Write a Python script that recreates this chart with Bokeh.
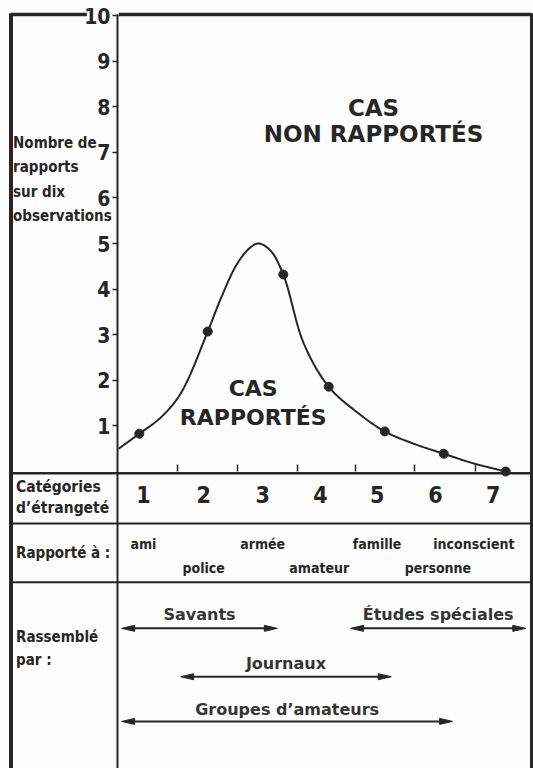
import numpy as np
from bokeh.plotting import figure
from bokeh.models import Range1d, LinearAxis, FixedTicker
from bokeh.core.properties import value
from bokeh.embed import file_html
from bokeh.resources import INLINE

# ---------------- data ----------------
# observed points: category position (x) and reports per ten observations (y)
point_x = [0.87, 2.03, 3.31, 4.08, 5.03, 6.03, 7.08]
point_y = [0.83, 3.07, 4.32, 1.86, 0.88, 0.39, 0.00]

# points
curve_x = [0.52, 0.87, 1.23, 1.57, 2.03, 2.25, 2.53, 2.75, 2.89, 3.09, 3.31, 3.66, 4.08, 4.57, 5.03, 5.52, 6.03, 6.53, 7.08]
curve_y = [0.50, 0.83, 1.18, 1.71, 3.07, 3.79, 4.56, 4.91, 5.00, 4.85, 4.32, 2.80, 1.86, 1.29, 0.88, 0.61, 0.39, 0.18, 0.00]

y_ticks = [1, 2, 3, 4, 5, 6, 7, 8, 9, 10]
x_ticks = [1.52, 2.53, 3.55, 4.53, 5.53, 6.57]

category_labels = ["1", "2", "3", "4", "5", "6", "7"]
category_x = [0.94, 1.96, 2.96, 3.94, 4.90, 5.89, 6.87]

reported_to = ["ami", "police", "armée", "amateur", "famille", "personne", "inconscient"]
reported_x = [0.94, 1.96, 2.96, 3.92, 4.90, 5.93, 6.54]
reported_row = [0, 1, 0, 1, 0, 1, 0]

collectors = ["Savants", "Études spéciales", "Journaux", "Groupes d’amateurs"]
collector_start = [0.57, 4.45, 1.57, 0.57]
collector_end = [3.21, 7.42, 5.14, 6.18]
collector_row = [0, 0, 1, 2]

y_title = ["Nombre de", "rapports", "sur dix", "observations"]

# ---------------- layout / style ----------------
W, H = 533, 768
X0, X1 = -1.483, 7.551
Y0, Y1 = -6.513, 10.329
PXX = W / (X1 - X0)
PXY = H / (Y1 - Y0)

INK = "#262626"
BG = "#fdfdfd"
NARROW = "'Liberation Sans Narrow', 'DejaVu Sans Condensed', 'Arial Narrow', sans-serif"
WIDE = "'DejaVu Sans', sans-serif"

LEFT_X = -1.305     # outer left border
AXIS_X = 0.5        # y axis / column divider
RIGHT_X = 7.517     # outer right border
TOP_Y = 10.02
ROW_LINES = [-0.04, -1.14, -2.43]
TEXT_X = -1.22

p = figure(width=W, height=H, x_range=Range1d(X0, X1), y_range=Range1d(Y0, Y1),
           x_axis_location=None, y_axis_location=None, toolbar_location=None,
           output_backend="svg", min_border=0, outline_line_color=None,
           background_fill_color=BG, border_fill_color=BG)
p.grid.visible = False

# frame lines
p.segment(x0=[LEFT_X], y0=[TOP_Y + 0.03], x1=[LEFT_X], y1=[Y0], line_color=INK, line_width=4)
p.segment(x0=[RIGHT_X], y0=[TOP_Y + 0.03], x1=[RIGHT_X], y1=[Y0], line_color=INK, line_width=3)
p.segment(x0=[AXIS_X], y0=[TOP_Y], x1=[AXIS_X], y1=[Y0], line_color=INK, line_width=2)
p.segment(x0=[LEFT_X, 0.52], y0=[TOP_Y, TOP_Y], x1=[-0.02, RIGHT_X], y1=[TOP_Y, TOP_Y],
          line_color=INK, line_width=3.5)
p.segment(x0=[LEFT_X] * 3, y0=ROW_LINES, x1=[RIGHT_X] * 3, y1=ROW_LINES,
          line_color=INK, line_width=[2.5, 2, 2])

# y axis at the column divider
yaxis = LinearAxis(ticker=FixedTicker(ticks=y_ticks), fixed_location=AXIS_X, bounds=(0, 10))
yaxis.axis_line_color = None
yaxis.major_tick_out = 5
yaxis.major_tick_in = 0
yaxis.major_tick_line_color = INK
yaxis.major_tick_line_width = 1.5
yaxis.minor_tick_line_color = None
yaxis.major_label_text_font = NARROW
yaxis.major_label_text_font_size = "21px"
yaxis.major_label_text_font_style = "bold"
yaxis.major_label_text_color = INK
yaxis.major_label_standoff = 2
p.add_layout(yaxis, "left")

# x axis ticks on the base line
xaxis = LinearAxis(ticker=FixedTicker(ticks=x_ticks), fixed_location=0)
xaxis.axis_line_color = None
xaxis.major_tick_in = 7
xaxis.major_tick_out = 0
xaxis.major_tick_line_color = INK
xaxis.major_tick_line_width = 1.5
xaxis.minor_tick_line_color = None
xaxis.major_label_overrides = {t: "" for t in x_ticks}
p.add_layout(xaxis, "below")

# smooth curve (centripetal Catmull-Rom through the read curve points)
def smooth(xs, ys, n=24):
    P = np.column_stack([np.asarray(xs) * PXX, np.asarray(ys) * PXY])
    P = np.vstack([2 * P[0] - P[1], P, 2 * P[-1] - P[-2]])
    out = []
    for i in range(1, len(P) - 2):
        p0, p1, p2, p3 = P[i - 1], P[i], P[i + 1], P[i + 2]
        def tj(ti, a, b):
            return ti + max(np.linalg.norm(b - a), 1e-6) ** 0.5
        t0 = 0.0
        t1 = tj(t0, p0, p1)
        t2 = tj(t1, p1, p2)
        t3 = tj(t2, p2, p3)
        t = np.linspace(t1, t2, n)[:, None]
        A1 = (t1 - t) / (t1 - t0) * p0 + (t - t0) / (t1 - t0) * p1
        A2 = (t2 - t) / (t2 - t1) * p1 + (t - t1) / (t2 - t1) * p2
        A3 = (t3 - t) / (t3 - t2) * p2 + (t - t2) / (t3 - t2) * p3
        B1 = (t2 - t) / (t2 - t0) * A1 + (t - t0) / (t2 - t0) * A2
        B2 = (t3 - t) / (t3 - t1) * A2 + (t - t1) / (t3 - t1) * A3
        C = (t2 - t) / (t2 - t1) * B1 + (t - t1) / (t2 - t1) * B2
        out.append(C if i == 1 else C[1:])
    C = np.vstack(out)
    return C[:, 0] / PXX, C[:, 1] / PXY

sx, sy = smooth(curve_x, curve_y)
p.line(sx, sy, line_color=INK, line_width=2)
p.scatter(point_x, point_y, size=9, fill_color=INK, line_color=INK)

# big labels inside the chart
p.text(x=[4.84, 4.84], y=[7.98, 7.41], text=["CAS", "NON RAPPORTÉS"],
       text_font=value(WIDE), text_font_style="bold", text_font_size="23px",
       text_color=INK, text_align="center", text_baseline="middle")
p.text(x=[2.80, 2.80], y=[1.82, 1.18], text=["CAS", "RAPPORTÉS"],
       text_font=value(WIDE), text_font_style="bold", text_font_size="22px",
       text_color=INK, text_align="center", text_baseline="middle")

# left column labels
p.text(x=[TEXT_X - 0.05] * 4, y=[7.21, 6.67, 6.12, 5.61], text=y_title,
       text_font=value(NARROW), text_font_style="bold", text_font_size="15px",
       text_color=INK, text_align="left", text_baseline="middle")
p.text(x=[TEXT_X] * 2, y=[-0.33, -0.79], text=["Catégories", "d’étrangeté"],
       text_font=value(NARROW), text_font_style="bold", text_font_size="15.5px",
       text_color=INK, text_align="left", text_baseline="middle")
p.text(x=[TEXT_X], y=[-1.78], text=["Rapporté à :"],
       text_font=value(NARROW), text_font_style="bold", text_font_size="15px",
       text_color=INK, text_align="left", text_baseline="middle")
p.text(x=[TEXT_X] * 2, y=[-3.64, -4.14], text=["Rassemblé", "par :"],
       text_font=value(NARROW), text_font_style="bold", text_font_size="15px",
       text_color=INK, text_align="left", text_baseline="middle")

# category numbers
p.text(x=category_x, y=[-0.50] * len(category_x), text=category_labels,
       text_font=value(NARROW), text_font_style="bold", text_font_size="23px",
       text_color=INK, text_align="center", text_baseline="middle")

# reported-to words
row_y = {0: -1.58, 1: -2.11}
p.text(x=reported_x, y=[row_y[r] for r in reported_row], text=reported_to,
       text_font=value(NARROW), text_font_style="bold", text_font_size="14px",
       text_color=INK, text_align="center", text_baseline="middle")

# collectors: arrows and labels
arrow_y = {0: -3.44, 1: -4.50, 2: -5.48}
label_y = {0: -3.14, 1: -4.21, 2: -5.22}
HL = 13 / PXX
HW = 3 / PXY
for s, e, r in zip(collector_start, collector_end, collector_row):
    y = arrow_y[r]
    p.segment(x0=[s + HL * 0.6], y0=[y], x1=[e - HL * 0.6], y1=[y], line_color=INK, line_width=2)
    p.patches(xs=[[s, s + HL, s + HL], [e, e - HL, e - HL]],
              ys=[[y, y + HW, y - HW], [y, y + HW, y - HW]],
              fill_color=INK, line_color=INK, line_width=1)
p.text(x=[(s + e) / 2 for s, e in zip(collector_start, collector_end)],
       y=[label_y[r] for r in collector_row], text=collectors,
       text_font=value(WIDE), text_font_style="bold", text_font_size="16px",
       text_color="#353535", text_align="center", text_baseline="middle")

open("out.html", "w").write(file_html(p, INLINE))
